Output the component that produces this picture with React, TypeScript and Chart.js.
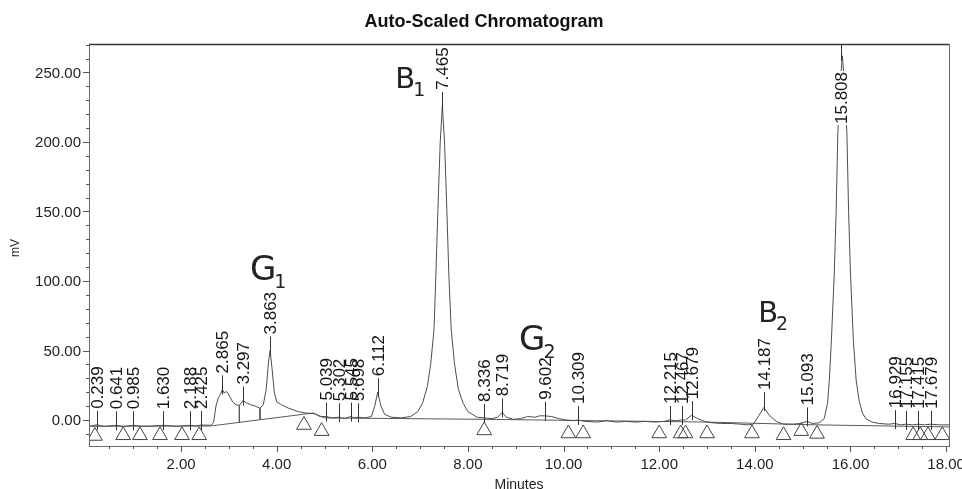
import React, { useEffect, useRef } from "react";
import { Chart, registerables } from "chart.js";

Chart.register(...registerables);

// ---- Data (minutes, mV) ----
const traceTimes = [
  0.07, 0.239, 0.4, 0.641, 0.8, 0.985, 1.2, 1.4, 1.63, 1.9, 2.188, 2.3, 2.425, 2.62,
  2.68, 2.73, 2.78, 2.83, 2.865, 2.9, 2.95, 3.0, 3.08, 3.15, 3.22, 3.297, 3.36, 3.45, 3.55, 3.65,
  3.72, 3.78, 3.83, 3.863, 3.9, 3.95, 4.0, 4.1, 4.25, 4.45, 4.62, 4.8, 4.9,
  5.039, 5.15, 5.302, 5.42, 5.545, 5.62, 5.698, 5.85, 5.98, 6.05, 6.112, 6.18, 6.26, 6.4, 6.6,
  6.8, 6.95, 7.05, 7.15, 7.22, 7.29, 7.33, 7.37, 7.42, 7.465, 7.51, 7.56, 7.6, 7.65, 7.72, 7.8, 7.9, 8.0, 8.19,
  8.336, 8.5, 8.62, 8.719, 8.8, 8.95, 9.1, 9.25, 9.4, 9.5, 9.602, 9.75, 9.9, 10.05, 10.2, 10.309,
  10.45, 10.7, 10.9, 11.1, 11.3, 11.5, 11.7, 11.9, 12.1, 12.215, 12.35, 12.467, 12.55, 12.679, 12.8, 12.95,
  13.1, 13.3, 13.5, 13.7, 13.85, 13.97, 14.08, 14.187, 14.3, 14.45, 14.6, 14.8, 14.95, 15.093, 15.2, 15.35,
  15.45, 15.52, 15.56, 15.6, 15.66, 15.7, 15.735, 15.78, 15.83, 15.88, 15.925, 15.96, 16.0, 16.06, 16.12, 16.18,
  16.25, 16.32, 16.45, 16.6, 16.8, 16.929, 17.05, 17.155, 17.3, 17.415, 17.55, 17.679, 17.85, 18.06,
];
const traceValues = [
  -4.5, -3.5, -4.6, -3.8, -4.8, -3.8, -4.6, -4.4, -3.8, -4.6, -3.8, -4.3, -3.6, -3.8,
  -2, 10, 16, 19, 22, 19.5, 20.5, 18, 13, 11, 10.5, 14, 12.5, 11, 10, 8.5,
  11, 22, 42, 50, 38, 20, 13, 11, 8.5, 6, 5, 4.5, 2.5,
  2.5, 1.5, 2, 1, 2.5, 1.5, 2, 1.5, 2.5, 10, 20, 10, 4, 2, 1.5,
  2.5, 6, 12, 24, 40, 65, 105, 150, 200, 226, 200, 150, 105, 65, 40, 22, 12, 6, 2,
  1.5, 1, 2, 5.5, 2, 0.5, 1, 2.5, 2, 3, 3, 2.5, 1, 0, -0.5, 0,
  -1, -1.5, -0.5, -1.5, -1, -1.5, -1, -1.5, -1, 0, -0.5, 0, 0, 3.5, 1, -1,
  -2, -2.5, -2.5, -3, -3.5, -3, 3, 9, 3.5, -1, -3, -3, -2.5, -1, -2.5, -2,
  1, 12, 30, 57, 105, 150, 206, 240, 262, 240, 206, 150, 105, 57, 28, 14,
  5, 1, -1.5, -2.5, -3, -2.5, -3.5, -3, -3.5, -3, -3.5, -3, -3.5, -3.5,
];

const baselineTimes = [0.07, 2.62, 4.76, 5.0, 8.3, 13.0, 15.3, 18.06];
const baselineValues = [-4.5, -4.3, 5, 1.5, 0.5, -1.5, -3.5, -5];

const dropTimes = [3.22, 3.65];
const dropTops = [10.5, 8.5];
const dropBottoms = [-1.7, 0.2];

const markerTimes = [0.2, 0.79, 1.14, 1.56, 2.02, 2.38, 4.57, 4.94, 8.34, 10.1, 10.41, 12.0, 12.45, 12.55, 13.0, 13.94, 14.6, 14.97, 15.3, 17.31, 17.46, 17.62, 17.92];
const markerValues = [-11.5, -11, -11, -11, -11, -11, -3.6, -8, -7.5, -9.7, -9.7, -9.7, -9.7, -9.7, -9.7, -9.7, -11, -8, -10, -11, -11, -11, -11];

const peakTimes = [0.239, 0.641, 0.985, 1.63, 2.188, 2.425, 2.865, 3.297, 3.863, 5.039, 5.302, 5.545, 5.698, 6.112, 7.465, 8.336, 8.719, 9.602, 10.309, 12.215, 12.467, 12.679, 14.187, 15.093, 15.808, 16.929, 17.155, 17.415, 17.679];
const peakLabels = ["0.239", "0.641", "0.985", "1.630", "2.188", "2.425", "2.865", "3.297", "3.863", "5.039", "5.302", "5.545", "5.698", "6.112", "7.465", "8.336", "8.719", "9.602", "10.309", "12.215", "12.467", "12.679", "14.187", "15.093", "15.808", "16.929", "17.155", "17.415", "17.679"];
const peakHeights = [-3.5, -3.8, -3.8, -3.8, -3.8, -3.6, 22, 14, 50, 2.5, 2, 2.5, 2, 20, 226, 1.5, 5.5, 3, 0, 0, 0, 3.5, 10, -1, 262, -3, -3.5, -3.5, -3.5];

const xTickValues = [2, 4, 6, 8, 10, 12, 14, 16, 18];
const yTickValues = [0, 50, 100, 150, 200, 250];

const annoLetters = ["G", "B", "G", "B"];
const annoSubs = ["1", "1", "2", "2"];
const annoTimes = [3.44, 6.48, 9.07, 14.07];
const annoValues = [100.7, 238.8, 50.4, 70.5];

const X_MIN = 0.075;
const X_MAX = 18.06;
const Y_MIN = -18.7;
const Y_MAX = 270.5;

const FONT = '"Liberation Sans", Arial, sans-serif';

const decorPlugin = {
  id: "chromDecor",
  afterDraw(chart: any) {
    const { ctx, chartArea: a, scales } = chart;
    const xs = scales.x;
    const ys = scales.y;
    ctx.save();

    // Frame
    ctx.strokeStyle = "#6a6a6a";
    ctx.lineWidth = 1;
    ctx.strokeRect(a.left + 0.5, a.top + 0.5, a.right - a.left, a.bottom - a.top);
    ctx.strokeStyle = "#333";
    ctx.lineWidth = 1.5;
    ctx.beginPath();
    ctx.moveTo(a.left, a.top + 0.5);
    ctx.lineTo(a.right, a.top + 0.5);
    ctx.stroke();

    // X ticks
    ctx.strokeStyle = "#555";
    ctx.lineWidth = 1;
    for (let k = 0; k <= 40; k++) {
      const v = k * 0.5;
      if (v < X_MIN || v > X_MAX) continue;
      const px = Math.round(xs.getPixelForValue(v)) + 0.5;
      const major = xTickValues.includes(v);
      ctx.beginPath();
      ctx.moveTo(px, a.bottom);
      ctx.lineTo(px, a.bottom + (major ? 6 : 3));
      ctx.stroke();
    }
    // Y ticks
    for (let v = -10; v <= 270; v += 10) {
      const py = Math.round(ys.getPixelForValue(v)) + 0.5;
      const major = yTickValues.includes(v);
      ctx.beginPath();
      ctx.moveTo(a.left, py);
      ctx.lineTo(a.left - (major ? 6 : 3), py);
      ctx.stroke();
    }

    // Tick labels
    ctx.fillStyle = "#1e1e1e";
    ctx.font = `15px ${FONT}`;
    ctx.textAlign = "center";
    ctx.textBaseline = "middle";
    xTickValues.forEach((v) => {
      ctx.fillText(v.toFixed(2), xs.getPixelForValue(v), a.bottom + 19);
    });
    ctx.textAlign = "right";
    yTickValues.forEach((v) => {
      ctx.fillText(v.toFixed(2), a.left - 8, ys.getPixelForValue(v) + 1);
    });

    // Axis titles
    ctx.font = `14px ${FONT}`;
    ctx.textAlign = "center";
    ctx.textBaseline = "alphabetic";
    ctx.fillText("Minutes", (a.left + a.right) / 2, 489);
    ctx.save();
    ctx.translate(19, 248);
    ctx.rotate(-Math.PI / 2);
    ctx.font = `12px ${FONT}`;
    ctx.fillText("mV", 0, 0);
    ctx.restore();

    // Title
    ctx.font = `bold 18px ${FONT}`;
    ctx.fillStyle = "#111";
    ctx.fillText("Auto-Scaled Chromatogram", chart.width / 2 + 3, 27);

    // Peak ticks and labels
    ctx.font = `17px ${FONT}`;
    ctx.strokeStyle = "#333";
    peakTimes.forEach((t, i) => {
      const px = Math.round(xs.getPixelForValue(t)) + 0.5;
      const py = ys.getPixelForValue(peakHeights[i]);
      ctx.beginPath();
      ctx.moveTo(px, Math.max(a.top, py - 14));
      ctx.lineTo(px, py + 5);
      ctx.stroke();
      const label = peakLabels[i];
      const w = ctx.measureText(label).width;
      let bottom = py - 16;
      let clamped = false;
      if (bottom - w < a.top) {
        bottom = a.top + 28 + w;
        clamped = true;
      }
      ctx.save();
      ctx.translate(px, bottom);
      ctx.rotate(-Math.PI / 2);
      if (clamped) {
        ctx.fillStyle = "#fff";
        ctx.fillRect(-1, -8, w + 2, 16);
      }
      ctx.fillStyle = "#151515";
      ctx.textAlign = "left";
      ctx.textBaseline = "middle";
      ctx.fillText(label, 0, 1);
      ctx.restore();
    });

    // Hand-written annotations
    ctx.fillStyle = "#262222";
    ctx.textAlign = "left";
    ctx.textBaseline = "alphabetic";
    annoLetters.forEach((ch, i) => {
      const px = xs.getPixelForValue(annoTimes[i]);
      const py = ys.getPixelForValue(annoValues[i]);
      const big = ch === "G" ? 34 : 29;
      ctx.font = `${big}px "DejaVu Sans", sans-serif`;
      ctx.fillText(ch, px, py);
      const w = ctx.measureText(ch).width;
      ctx.font = `19px "DejaVu Sans", sans-serif`;
      ctx.fillText(annoSubs[i], px + w - 2, py + 8);
    });

    ctx.restore();
  },
};

export default function App() {
  const canvasRef = useRef<HTMLCanvasElement | null>(null);

  useEffect(() => {
    const canvas = canvasRef.current;
    if (!canvas) return;

    const trace = traceTimes.map((t, i) => ({ x: t, y: traceValues[i] }));
    const baseline = baselineTimes.map((t, i) => ({ x: t, y: baselineValues[i] }));
    const drops: any[] = [];
    dropTimes.forEach((t, i) => {
      drops.push({ x: t, y: dropTops[i] });
      drops.push({ x: t, y: dropBottoms[i] });
      drops.push({ x: t, y: null });
    });
    const markers = markerTimes.map((t, i) => ({ x: t, y: markerValues[i] }));

    const chart = new Chart(canvas, {
      type: "scatter",
      data: {
        datasets: [
          {
            data: trace,
            showLine: true,
            borderColor: "#4d4d4d",
            borderWidth: 1,
            pointRadius: 0,
            tension: 0,
          },
          {
            data: baseline,
            showLine: true,
            borderColor: "#5a5a5a",
            borderWidth: 1,
            pointRadius: 0,
            tension: 0,
          },
          {
            data: drops,
            showLine: true,
            spanGaps: false,
            borderColor: "#555",
            borderWidth: 1,
            pointRadius: 0,
          },
          {
            data: markers,
            showLine: false,
            pointStyle: "triangle",
            pointRadius: 8.5,
            borderColor: "#444",
            borderWidth: 1,
            backgroundColor: "rgba(255,255,255,0)",
          },
        ],
      },
      options: {
        responsive: false,
        animation: false,
        layout: { padding: { left: 89, right: 13, top: 44, bottom: 43 } },
        plugins: {
          legend: { display: false },
          tooltip: { enabled: false },
        },
        scales: {
          x: { type: "linear", min: X_MIN, max: X_MAX, display: false },
          y: { type: "linear", min: Y_MIN, max: Y_MAX, display: false },
        },
      },
      plugins: [decorPlugin],
    } as any);

    return () => chart.destroy();
  }, []);

  return (
    <div style={{ position: "fixed", left: 0, top: 0, width: 962, height: 489, background: "#fff" }}>
      <canvas ref={canvasRef} width={962} height={489} style={{ display: "block" }} />
    </div>
  );
}
